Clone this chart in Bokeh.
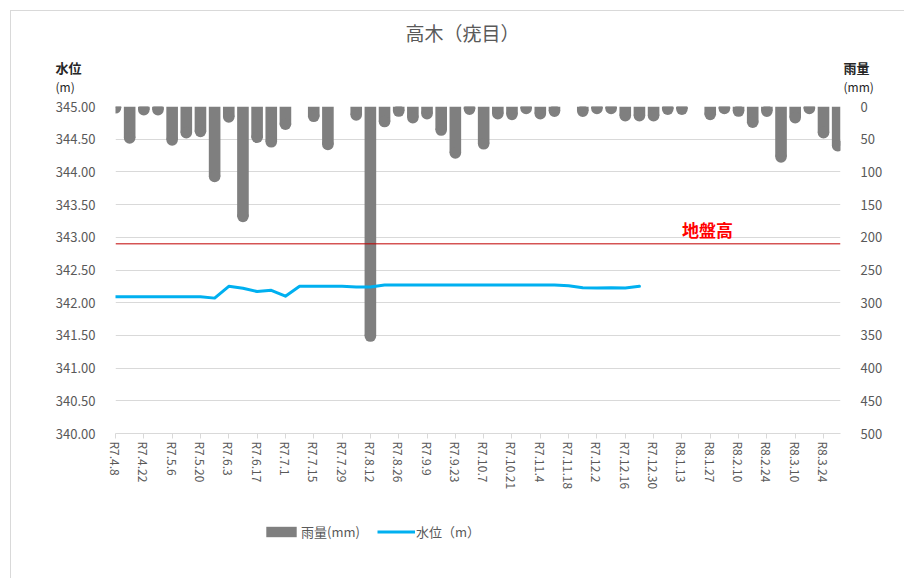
import math
from bokeh.plotting import figure
from bokeh.layouts import column, row
from bokeh.models import (Range1d, LinearAxis, FixedTicker, Span, Label, Legend,
                          LegendItem, NumeralTickFormatter)
from bokeh.embed import file_html
from bokeh.resources import INLINE

# ---------------- data ----------------
weeks = ["R7.4.8", "R7.4.15", "R7.4.22", "R7.4.29", "R7.5.6", "R7.5.13", "R7.5.20", "R7.5.27",
         "R7.6.3", "R7.6.10", "R7.6.17", "R7.6.24", "R7.7.1", "R7.7.8", "R7.7.15", "R7.7.22",
         "R7.7.29", "R7.8.5", "R7.8.12", "R7.8.19", "R7.8.26", "R7.9.2", "R7.9.9", "R7.9.16",
         "R7.9.23", "R7.9.30", "R7.10.7", "R7.10.14", "R7.10.21", "R7.10.28", "R7.11.4",
         "R7.11.11", "R7.11.18", "R7.11.25", "R7.12.2", "R7.12.9", "R7.12.16", "R7.12.23",
         "R7.12.30", "R8.1.6", "R8.1.13", "R8.1.20", "R8.1.27", "R8.2.3", "R8.2.10", "R8.2.17",
         "R8.2.24", "R8.3.3", "R8.3.10", "R8.3.17", "R8.3.24", "R8.3.31"]

rain_mm = [2, 48, 5, 5, 51, 40, 38, 107, 16, 168, 47, 54, 27, 0, 15, 58, 0, 13, 351, 23,
           7, 17, 11, 36, 71, 4, 57, 11, 12, 3, 11, 7, 0, 7, 3, 3, 14, 14, 14, 4,
           4, 0, 12, 3, 7, 24, 7, 77, 17, 3, 40, 60]

water_level_m = [342.09, 342.09, 342.09, 342.09, 342.09, 342.09, 342.09, 342.07, 342.25, 342.22,
                 342.17, 342.19, 342.10, 342.25, 342.25, 342.25, 342.25, 342.24, 342.24, 342.27,
                 342.27, 342.27, 342.27, 342.27, 342.27, 342.27, 342.27, 342.27, 342.27, 342.27,
                 342.27, 342.27, 342.26, 342.23, 342.225, 342.23, 342.225, 342.25]

ground_level_m = 342.9
level_ticks = [340.0, 340.5, 341.0, 341.5, 342.0, 342.5, 343.0, 343.5, 344.0, 344.5, 345.0]
rain_ticks = [0, 50, 100, 150, 200, 250, 300, 350, 400, 450, 500]

title_text = "高木（疣目）"
label_ground = "地盤高"
left_title = ["水位", "(m)"]
right_title = ["雨量", "(mm)"]
legend_labels = ["雨量(mm)", "水位（m）"]

FONT = "Noto Sans CJK JP"
GRAY_TXT = "#595959"
RAIN_C = "#7F7F7F"
LEVEL_C = "#00B0F0"
OFF = 11            # chart-area border offset (margin 10 + 1px border)
W = 893
HDR_H = 96 - OFF
MAIN_H = 405
FTR_H = 77

idx = list(range(len(weeks)))

# ---------------- header (title + axis titles) ----------------
hdr = figure(width=W, height=HDR_H, output_backend="svg", toolbar_location=None,
             x_range=Range1d(OFF, OFF + W), y_range=Range1d(96, OFF),
             x_axis_type=None, y_axis_type=None, min_border=0)
hdr.outline_line_color = None
hdr.add_layout(Label(x=462, y=32, text=title_text, text_align="center",
                     text_baseline="middle", text_font_size="19px",
                     text_color=GRAY_TXT, text_font=FONT))
for xx, pair in ((55, left_title), (843, right_title)):
    hdr.add_layout(Label(x=xx, y=67, text=pair[0], text_baseline="middle",
                         text_font_size="13px", text_font_style="bold",
                         text_color="#262626", text_font=FONT))
    hdr.add_layout(Label(x=xx, y=86, text=pair[1], text_baseline="middle",
                         text_font_size="12px", text_color="#262626", text_font=FONT))

# ---------------- main chart ----------------
p = figure(width=W, height=MAIN_H, output_backend="svg", toolbar_location=None,
           x_range=Range1d(0, 51.2), y_range=Range1d(340, 345),
           min_border_left=115 - OFF, min_border_right=W - (115 - OFF) - 725,
           min_border_top=10, min_border_bottom=MAIN_H - 10 - 327)
p.outline_line_color = None
p.extra_y_ranges = {"rain": Range1d(start=500, end=0)}

bars = p.vbar(x=idx, top=0, bottom=rain_mm, width=0.82, y_range_name="rain",
              fill_color=RAIN_C, line_color=None)
cx = [i for i, v in zip(idx, rain_mm) if v > 0]
cy = [v for v in rain_mm if v > 0]
p.scatter(x=cx, y=cy, size=11.6, marker="circle", y_range_name="rain",
          fill_color=RAIN_C, line_color=None)

p.add_layout(Span(location=ground_level_m, dimension="width", line_color="#C00000", line_width=1))
p.add_layout(Label(x=41.8, y=ground_level_m, text=label_ground, text_align="center",
                   text_baseline="bottom", y_offset=2, text_color="#FF0000",
                   text_font_size="17px", text_font_style="bold", text_font=FONT))

line = p.line(idx[:len(water_level_m)], water_level_m, line_color=LEVEL_C, line_width=3,
              line_join="round", line_cap="round")

p.xgrid.visible = False
p.ygrid.ticker = FixedTicker(ticks=level_ticks)
p.ygrid.grid_line_color = "#D9D9D9"

ya = p.yaxis[0]
ya.ticker = FixedTicker(ticks=level_ticks)
ya.formatter = NumeralTickFormatter(format="0.00")

ra = LinearAxis(y_range_name="rain", ticker=FixedTicker(ticks=rain_ticks))
p.add_layout(ra, "right")
for ax in (ya, ra):
    ax.axis_line_color = None
    ax.major_tick_line_color = None
    ax.minor_tick_line_color = None
    ax.major_label_standoff = 14
    ax.major_label_text_font_size = "13px"
    ax.major_label_text_color = GRAY_TXT
    ax.major_label_text_font = FONT

xa = p.xaxis[0]
xa.ticker = FixedTicker(ticks=idx[::2])
xa.major_label_overrides = {i: weeks[i] for i in idx[::2]}
xa.major_label_orientation = -math.pi / 2
xa.axis_line_color = "#D9D9D9"
xa.major_tick_line_color = "#D9D9D9"
xa.major_tick_in = 0
xa.major_tick_out = 5
xa.minor_tick_line_color = None
xa.major_label_standoff = 3
xa.major_label_text_font_size = "12px"
xa.major_label_text_color = GRAY_TXT
xa.major_label_text_font = FONT

# ---------------- footer (legend) ----------------
ftr = figure(width=W, height=FTR_H, output_backend="svg", toolbar_location=None,
             x_range=Range1d(OFF, OFF + W), y_range=Range1d(0, FTR_H),
             x_axis_type=None, y_axis_type=None, min_border=0)
ftr.outline_line_color = None
# legend proxies carry the same series, hidden in the footer
lg_bar = ftr.vbar(x=idx, top=0, bottom=rain_mm, width=0.82, fill_color=RAIN_C,
                  line_color=None, visible=False)
lg_line = ftr.line(idx[:len(water_level_m)], water_level_m, line_color=LEVEL_C,
                   line_width=3, visible=False)
legend = Legend(items=[LegendItem(label=legend_labels[0], renderers=[lg_bar]),
                       LegendItem(label=legend_labels[1], renderers=[lg_line])],
                location=(262 - OFF, 37), orientation="horizontal", glyph_width=38,
                glyph_height=13, label_standoff=1, spacing=17, padding=0, margin=0,
                border_line_color=None, background_fill_alpha=0,
                label_text_font_size="13px", label_text_color=GRAY_TXT,
                label_text_font=FONT)
ftr.add_layout(legend)

layout = column(row(hdr), p, row(ftr), spacing=0, margin=(10, 0, 0, 10),
                styles={"border-left": "1px solid #D9D9D9", "border-top": "1px solid #D9D9D9"})
open("out.html", "w").write(file_html(layout, INLINE))
